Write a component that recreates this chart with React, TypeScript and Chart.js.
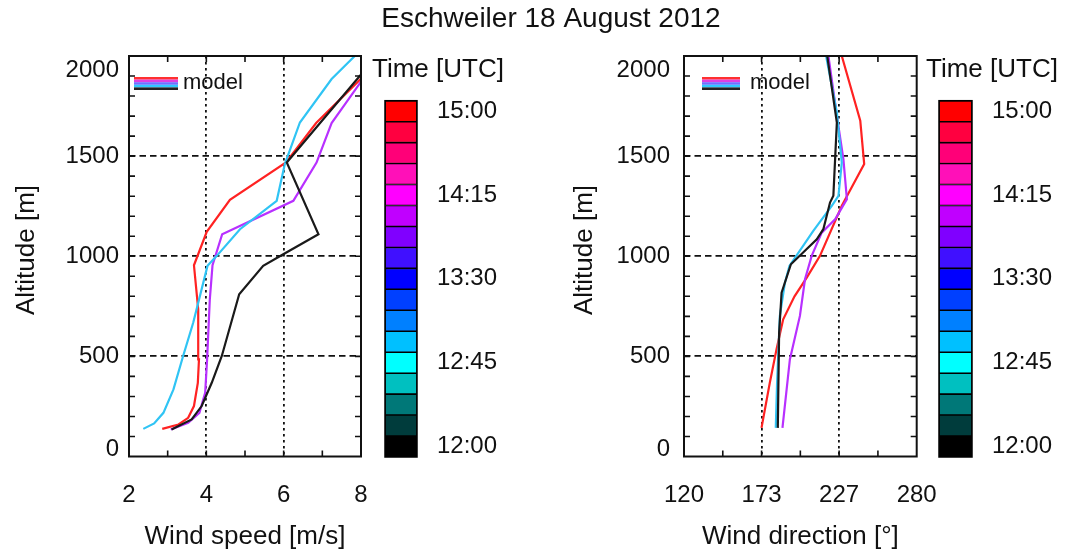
import React, { useEffect, useRef } from "react";
import { Chart, registerables } from "chart.js";

Chart.register(...registerables);

const W = 1073;
const H = 554;
const FONT = '"Liberation Sans", Arial, Helvetica, sans-serif';
const INK = "#111111";

// ---------- Data: wind speed profiles (m/s) ----------
const speedAlt1500 = [138, 160, 193, 252, 368, 485, 735, 955, 1122, 1282, 1468, 1665, 1885];
const speed1500 = [2.86, 3.28, 3.53, 3.68, 3.78, 3.81, 3.79, 3.68, 4.01, 4.61, 6.06, 6.84, 7.99];

const speedAlt1415 = [135, 168, 218, 318, 485, 785, 955, 1110, 1277, 1468, 1665, 1877];
const speed1415 = [3.08, 3.53, 3.82, 3.97, 4.02, 4.09, 4.16, 4.41, 6.25, 6.85, 7.24, 8.02];

const speedAlt1245 = [138, 165, 218, 335, 502, 668, 952, 1002, 1135, 1277, 1460, 1668, 1885, 2000];
const speed1245 = [2.37, 2.65, 2.89, 3.15, 3.4, 3.66, 4.03, 4.27, 4.87, 5.82, 6.03, 6.42, 7.24, 7.84];

const speedAlt1200 = [135, 185, 252, 368, 502, 810, 952, 1010, 1110, 1468, 1905];
const speed1200 = [3.1, 3.62, 3.88, 4.14, 4.4, 4.85, 5.47, 5.99, 6.9, 6.08, 7.99];

// ---------- Data: wind direction profiles (deg) ----------
const dirAlt1500 = [143, 368, 535, 685, 800, 893, 1002, 1252, 1460, 1677, 2000];
const dir1500 = [173.3, 179.0, 183.6, 188.2, 196.0, 204.4, 213.5, 228.5, 243.9, 241.2, 228.5];

const dirAlt1415 = [143, 485, 702, 885, 1002, 1118, 1185, 1285, 1485, 1702, 2000];
const dir1415 = [187.7, 192.8, 199.7, 203.2, 207.8, 214.7, 223.9, 232.0, 229.6, 225.1, 219.3];

const dirAlt1245 = [143, 368, 702, 868, 952, 1127, 1252, 1302, 1468, 1718, 2000];
const dir1245 = [183.1, 184.0, 185.9, 189.4, 192.5, 208.9, 221.6, 226.2, 228.5, 225.1, 217.7];

const dirAlt1200 = [143, 618, 818, 960, 1085, 1135, 1268, 1302, 1485, 1668, 2000];
const dir1200 = [184.5, 185.4, 187.1, 193.5, 211.3, 215.8, 220.4, 222.7, 223.9, 225.1, 218.5];

// ---------- Axes / colorbar ----------
const altTicks = [0, 500, 1000, 1500, 2000];
const speedTicks = [2, 4, 6, 8];
const dirTicks = [120, 173.333, 226.667, 280];
const timeLabels = ["12:00", "12:45", "13:30", "14:15", "15:00"];
const timeLabelSlots = [0.5, 4.5, 8.5, 12.5, 16.5];
// 12:00 (bottom) -> 15:00 (top)
const swatchColors = [
  "#000000", "#003c3c", "#007878", "#00c0c0", "#00ffff", "#00c0ff", "#0080ff", "#0040ff",
  "#0000ff", "#4010ff", "#8000ff", "#c000ff", "#ff00ff", "#ff10b8", "#ff0078", "#ff0040", "#ff0000",
];

const colRed = "#ff2222";
const colPurple = "#b830ff";
const colCyan = "#30c4f4";
const colBlack = "#1a1a1a";
const legendStripes = ["#ff3030", "#e040e0", "#7070ff", "#30c8ff", "#222222"];

type Series = { alt: number[]; val: number[]; color: string };

const speedSeries: Series[] = [
  { alt: speedAlt1200, val: speed1200, color: colBlack },
  { alt: speedAlt1245, val: speed1245, color: colCyan },
  { alt: speedAlt1415, val: speed1415, color: colPurple },
  { alt: speedAlt1500, val: speed1500, color: colRed },
];
const dirSeries: Series[] = [
  { alt: dirAlt1200, val: dir1200, color: colBlack },
  { alt: dirAlt1245, val: dir1245, color: colCyan },
  { alt: dirAlt1415, val: dir1415, color: colPurple },
  { alt: dirAlt1500, val: dir1500, color: colRed },
];

const panelDecor = {
  id: "panelDecor",
  afterDraw(chart: any, _args: any, o: any) {
    const { ctx, chartArea: a, scales } = chart;
    const xs = scales.x;
    const ys = scales.y;
    ctx.save();
    // tick marks, inward on all four sides
    ctx.strokeStyle = INK;
    ctx.lineWidth = 1.6;
    ctx.beginPath();
    const tl = 6;
    for (let v = xs.min + o.xMinor; v < xs.max - 1e-6; v += o.xMinor) {
      const px = xs.getPixelForValue(v);
      ctx.moveTo(px, a.bottom);
      ctx.lineTo(px, a.bottom - tl);
      ctx.moveTo(px, a.top);
      ctx.lineTo(px, a.top + tl);
    }
    for (let v = ys.min + o.yMinor; v < ys.max - 1e-6; v += o.yMinor) {
      const py = ys.getPixelForValue(v);
      ctx.moveTo(a.left, py);
      ctx.lineTo(a.left + tl, py);
      ctx.moveTo(a.right, py);
      ctx.lineTo(a.right - tl, py);
    }
    ctx.stroke();
    // box
    ctx.lineWidth = 2;
    ctx.strokeRect(a.left, a.top, a.right - a.left, a.bottom - a.top);
    // tick labels
    ctx.fillStyle = INK;
    ctx.font = `24px ${FONT}`;
    ctx.textAlign = "center";
    ctx.textBaseline = "middle";
    xs.ticks.forEach((t: any) => {
      ctx.fillText(String(Math.round(t.value)), xs.getPixelForValue(t.value), a.bottom + 38.5);
    });
    ctx.textAlign = "right";
    ys.ticks.forEach((t: any) => {
      let py = ys.getPixelForValue(t.value);
      if (t.value >= ys.max) py = a.top + 14.5;
      else if (t.value <= ys.min) py = a.bottom - 7.5;
      ctx.fillText(String(t.value), a.left - o.yLabelGap, py);
    });
    // axis titles
    ctx.font = `26px ${FONT}`;
    ctx.textAlign = "center";
    ctx.fillText(o.xTitle, (a.left + a.right) / 2, a.bottom + 80.5);
    ctx.save();
    ctx.translate(o.yTitleX, 250);
    ctx.rotate(-Math.PI / 2);
    ctx.fillText(o.yTitle, 0, 0);
    ctx.restore();
    // legend
    legendStripes.forEach((c, i) => {
      ctx.fillStyle = c;
      ctx.fillRect(o.legX0, 77 + i * 2.6, o.legX1 - o.legX0, 2.6);
    });
    ctx.fillStyle = INK;
    ctx.font = `22px ${FONT}`;
    ctx.textAlign = "left";
    ctx.fillText("model", o.legText, 83);
    // main title
    if (o.mainTitle) {
      ctx.font = `28px ${FONT}`;
      ctx.textAlign = "center";
      ctx.fillText(o.mainTitle, 551, 19);
    }
    ctx.restore();
  },
};

const cbarDecor = {
  id: "cbarDecor",
  afterDraw(chart: any, _args: any, o: any) {
    const { ctx, chartArea: a } = chart;
    ctx.save();
    ctx.strokeStyle = "#000";
    ctx.lineWidth = 1.5;
    ctx.strokeRect(a.left, a.top, a.right - a.left, a.bottom - a.top);
    ctx.fillStyle = INK;
    ctx.font = `26px ${FONT}`;
    ctx.textAlign = "left";
    ctx.textBaseline = "middle";
    ctx.fillText(o.title, a.left - o.titleDx, 70);
    ctx.restore();
  },
};

type PanelSpec = {
  series: Series[];
  left: number;
  right: number;
  xMin: number;
  xMax: number;
  xTickValues: number[];
  xMinor: number;
  xTitle: string;
  yTitleX: number;
  yLabelGap: number;
  legX0: number;
  legX1: number;
  legText: number;
  mainTitle?: string;
};

const TOP = 56;
const BOTTOM = 456.5;

function panelConfig(p: PanelSpec): any {
  const inner = (min: number, max: number) => (c: any) => {
    const v = c.tick ? c.tick.value : min;
    return v > min + 1e-6 && v < max - 1e-6 ? INK : "rgba(0,0,0,0)";
  };
  return {
    type: "line",
    data: {
      datasets: p.series.map((s) => ({
        data: s.alt.map((al, i) => ({ x: s.val[i], y: al })),
        borderColor: s.color,
        backgroundColor: s.color,
        borderWidth: 2.2,
        pointRadius: 0,
        fill: false,
        tension: 0,
      })),
    },
    options: {
      responsive: false,
      animation: false,
      events: [],
      layout: { padding: { left: p.left, right: W - p.right, top: TOP, bottom: H - BOTTOM } },
      plugins: {
        legend: { display: false },
        tooltip: { enabled: false },
        panelDecor: {
          xMinor: p.xMinor,
          yMinor: 100,
          xTitle: p.xTitle,
          yTitle: "Altitude [m]",
          yTitleX: p.yTitleX,
          yLabelGap: p.yLabelGap,
          legX0: p.legX0,
          legX1: p.legX1,
          legText: p.legText,
          mainTitle: p.mainTitle,
        },
      },
      scales: {
        x: {
          type: "linear",
          min: p.xMin,
          max: p.xMax,
          ticks: { display: false },
          afterBuildTicks: (s: any) => {
            s.ticks = p.xTickValues.map((v) => ({ value: v }));
          },
          afterFit: (s: any) => {
            s.height = 0;
          },
          grid: { drawTicks: false, lineWidth: 1.8, color: inner(p.xMin, p.xMax) },
          border: { display: false, dash: [2.5, 3.5] },
        },
        y: {
          type: "linear",
          min: 0,
          max: 2000,
          ticks: { display: false },
          afterBuildTicks: (s: any) => {
            s.ticks = altTicks.map((v) => ({ value: v }));
          },
          afterFit: (s: any) => {
            s.width = 0;
          },
          grid: { drawTicks: false, lineWidth: 1.8, color: inner(0, 2000) },
          border: { display: false, dash: [6.5, 4] },
        },
      },
    },
    plugins: [panelDecor],
  };
}

const CBAR_LABEL_W = 100;

function cbarConfig(left: number, right: number): any {
  return {
    type: "bar",
    data: {
      labels: [""],
      datasets: swatchColors.map((c) => ({
        data: [1],
        backgroundColor: c,
        borderColor: "#000",
        borderWidth: 1.1,
        borderSkipped: false,
        barPercentage: 1,
        categoryPercentage: 1,
        stack: "cb",
      })),
    },
    options: {
      responsive: false,
      animation: false,
      events: [],
      layout: { padding: { left, right: W - right - CBAR_LABEL_W, top: 100.7, bottom: H - 457 } },
      plugins: {
        legend: { display: false },
        tooltip: { enabled: false },
        cbarDecor: { title: "Time [UTC]", titleDx: 13 },
      },
      scales: {
        x: { stacked: true, display: false },
        y: {
          stacked: true,
          position: "right",
          min: 0,
          max: swatchColors.length,
          afterBuildTicks: (s: any) => {
            s.ticks = timeLabelSlots.map((v) => ({ value: v }));
          },
          afterFit: (s: any) => {
            s.width = CBAR_LABEL_W;
          },
          ticks: {
            padding: 20,
            color: INK,
            autoSkip: false,
            font: { size: 24, family: FONT },
            callback: (_v: any, i: number) => timeLabels[i],
          },
          grid: { display: false, drawTicks: false },
          border: { display: false },
        },
      },
    },
    plugins: [cbarDecor],
  };
}

function ChartCanvas({ make }: { make: () => any }) {
  const ref = useRef<HTMLCanvasElement | null>(null);
  useEffect(() => {
    if (!ref.current) return;
    const chart = new Chart(ref.current, make());
    return () => chart.destroy();
  }, []);
  return (
    <canvas
      ref={ref}
      width={W}
      height={H}
      style={{ position: "absolute", left: 0, top: 0, width: W, height: H }}
    />
  );
}

export default function App() {
  return (
    <div style={{ position: "absolute", left: 0, top: 0, width: W, height: H, background: "#fff" }}>
      <ChartCanvas
        make={() =>
          panelConfig({
            series: speedSeries,
            left: 129,
            right: 361,
            xMin: 2,
            xMax: 8,
            xTickValues: speedTicks,
            xMinor: 1,
            xTitle: "Wind speed [m/s]",
            yTitleX: 27,
            yLabelGap: 10,
            legX0: 134,
            legX1: 178,
            legText: 183,
            mainTitle: "Eschweiler 18 August 2012",
          })
        }
      />
      <ChartCanvas
        make={() =>
          panelConfig({
            series: dirSeries,
            left: 684,
            right: 916.7,
            xMin: 120,
            xMax: 280,
            xTickValues: dirTicks,
            xMinor: 160 / 6,
            xTitle: "Wind direction [°]",
            yTitleX: 585,
            yLabelGap: 14,
            legX0: 702,
            legX1: 740,
            legText: 750,
          })
        }
      />
      <ChartCanvas make={() => cbarConfig(385, 417)} />
      <ChartCanvas make={() => cbarConfig(939, 972)} />
    </div>
  );
}
